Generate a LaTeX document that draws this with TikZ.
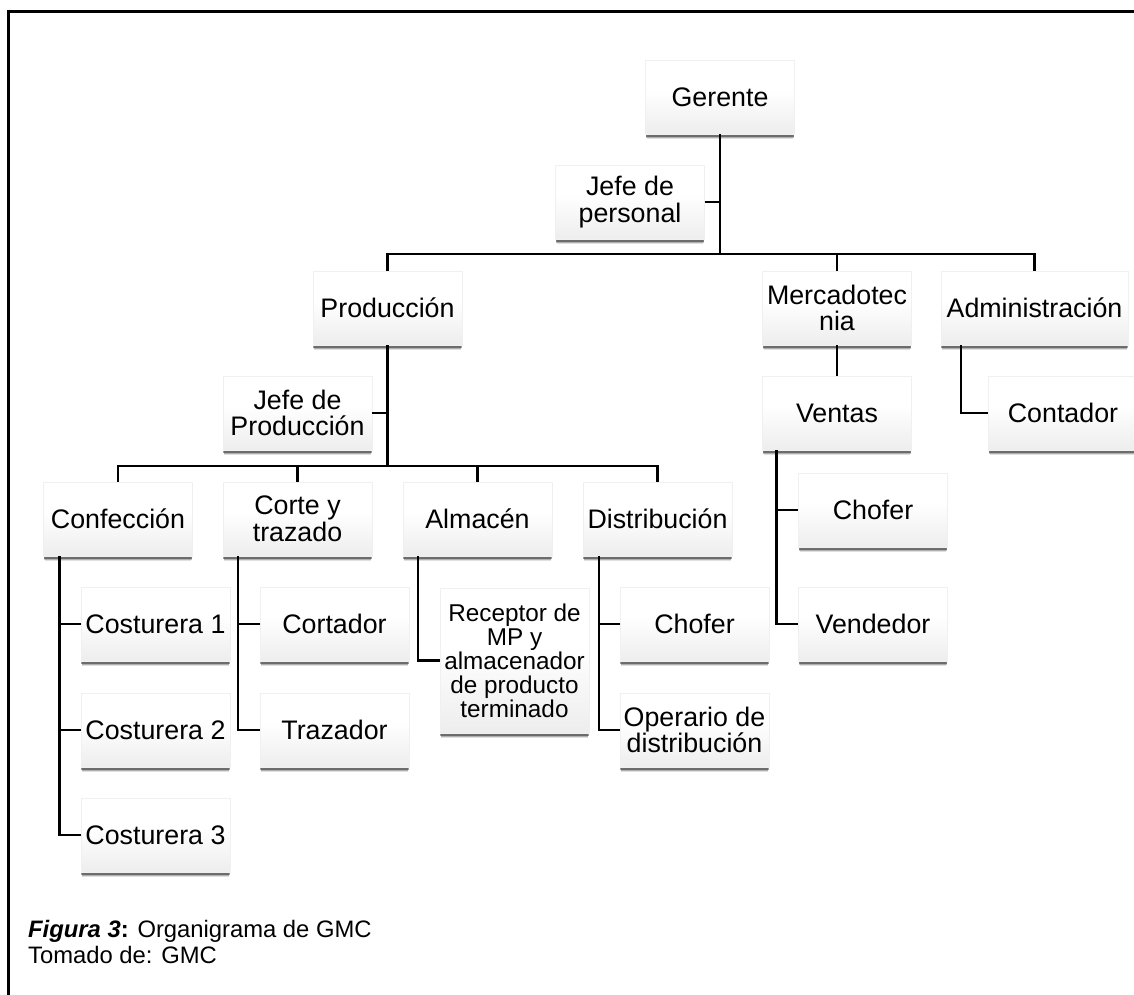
\documentclass[tikz,border=0pt]{standalone}
\usepackage{fontspec}
\setmainfont{Liberation Sans}
\usetikzlibrary{shadows,calc}

% soft vertical fill: white on top, light grey towards the bottom edge
\pgfdeclareverticalshading{boxshade}{100bp}{color(0bp)=(black!17); color(25bp)=(black!7); color(55bp)=(white); color(100bp)=(white)}

\newcommand{\boxfont}{\fontsize{26.8}{26.8}\selectfont}
\newcommand{\smallboxfont}{\fontsize{24.3}{24}\selectfont}
\newcommand{\capfont}{\fontsize{23.8}{26}\selectfont}

\tikzset{
  orgbox/.style={rectangle, inner sep=0pt, minimum width=149pt, minimum height=74pt,
    align=center, font=\boxfont, shade, shading=boxshade, draw=black!6, line width=0.4pt,
    general shadow={shadow yshift=-6pt, shadow scale=0.985, opacity=0.12, fill=black},
    general shadow={shadow yshift=-4.5pt, shadow scale=0.99, opacity=0.22, fill=black},
    general shadow={shadow yshift=-3pt, shadow scale=0.995, opacity=0.38, fill=black}},
  link/.style={line width=2.6pt, black, line join=miter},
}

\begin{document}
\begin{tikzpicture}[x=1pt, y=-1pt]
  \useasboundingbox (0,0) rectangle (1134,994);
  \clip (0,0) rectangle (1134,994);

  % outer frame (top and left edges)
  \draw[line width=3pt] (8,1000) -- (8,11) -- (1140,11);

  % top level
  \node[orgbox] (ger)  at (720,97)    {Gerente};
  \node[orgbox] (jper) at (630,202)   {Jefe de\\personal};

  % departments
  \node[orgbox] (prod) at (387.5,308) {Producción};
  \node[orgbox] (merc) at (837,308)   {Mercadotec\\nia};
  \node[orgbox, minimum width=187pt] (adm) at (1034.5,308) {Administración};

  % second level
  \node[orgbox] (jprod) at (297.5,413) {Jefe de\\Producción};
  \node[orgbox] (vent)  at (837,413)   {Ventas};
  \node[orgbox] (cont)  at (1063,413)  {Contador};

  % production areas
  \node[orgbox] (conf)  at (118,519)   {Confección};
  \node[orgbox] (corte) at (297.5,519) {Corte y\\trazado};
  \node[orgbox] (alm)   at (477.5,519) {Almacén};
  \node[orgbox] (dist)  at (657.5,519) {Distribución};

  % sales staff
  \node[orgbox] (chof2) at (873,510)   {Chofer};
  \node[orgbox] (vend)  at (873,624)   {Vendedor};

  % workers
  \node[orgbox] (cos1) at (155.5,624) {Costurera 1};
  \node[orgbox] (cos2) at (155.5,730) {Costurera 2};
  \node[orgbox] (cos3) at (155.5,835) {Costurera 3};
  \node[orgbox] (cortd) at (334.5,624) {Cortador};
  \node[orgbox] (trazd) at (334.5,730) {Trazador};
  \node[orgbox, minimum height=145pt, font=\smallboxfont] (recep) at (514.5,660.5)
    {Receptor de\\MP y\\almacenador\\de producto\\terminado};
  \node[orgbox] (chof1) at (694.5,624) {Chofer};
  \node[orgbox] (oper)  at (694.5,730) {Operario de\\distribución};

  % connectors below Gerente
  \coordinate (b1) at (720,254);
  \draw[link] (ger.south) -- (b1);
  \draw[link] (jper.east) -- (jper.east -| ger.south);
  \draw[link] (prod.north) |- (b1);
  \draw[link] (merc.north) |- (b1);
  \draw[link] (adm.north) |- (b1);

  % Mercadotecnia and Administración branches
  \draw[link] (merc.south) -- (vent.north);
  \coordinate (ax) at ($(adm.south west)+(20,0)$);
  \draw[link] (ax) |- (cont.west);
  \coordinate (vx) at ($(vent.south west)+(14,0)$);
  \draw[link] (vx) |- (vend.west);
  \draw[link] (vx |- chof2.west) -- (chof2.west);

  % Producción branch
  \coordinate (b2) at (387.5,466);
  \draw[link] (prod.south) -- (b2);
  \draw[link] (jprod.east) -- (jprod.east -| prod.south);
  \draw[link] (conf.north) |- (b2);
  \draw[link] (corte.north) |- (b2);
  \draw[link] (alm.north) |- (b2);
  \draw[link] (dist.north) |- (b2);

  % workers under each area
  \coordinate (cx) at ($(conf.south west)+(16,0)$);
  \draw[link] (cx) |- (cos3.west);
  \draw[link] (cx |- cos1.west) -- (cos1.west);
  \draw[link] (cx |- cos2.west) -- (cos2.west);

  \coordinate (tx) at ($(corte.south west)+(15,0)$);
  \draw[link] (tx) |- (trazd.west);
  \draw[link] (tx |- cortd.west) -- (cortd.west);

  \coordinate (lx) at ($(alm.south west)+(15,0)$);
  \draw[link] (lx) |- (recep.west);

  \coordinate (dx) at ($(dist.south west)+(16,0)$);
  \draw[link] (dx) |- (oper.west);
  \draw[link] (dx |- chof1.west) -- (chof1.west);

  % caption (base anchor sits on the last line)
  \node[anchor=base west, align=left, font=\capfont, inner sep=0pt] (cap) at (28,963)
    {\textbf{\textit{Figura 3}:} Organigrama de GMC\\Tomado de: GMC};
\end{tikzpicture}
\end{document}
